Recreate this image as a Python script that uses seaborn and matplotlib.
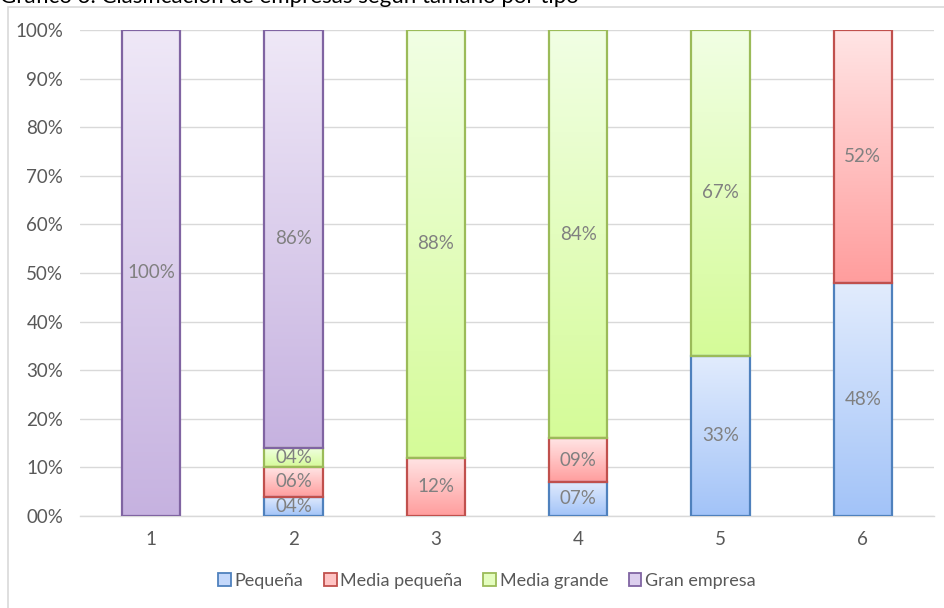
import numpy as np
import pandas as pd
import matplotlib
matplotlib.use("Agg")
import matplotlib.pyplot as plt
import seaborn as sns
from matplotlib.colors import LinearSegmentedColormap
from matplotlib.patches import Patch, Rectangle

categories = ["1", "2", "3", "4", "5", "6"]
pequena = [0, 4, 0, 7, 33, 48]
media_pequena = [0, 6, 12, 9, 0, 52]
media_grande = [0, 4, 88, 84, 67, 0]
gran_empresa = [100, 86, 0, 0, 0, 0]
series_names = ["Pequeña", "Media pequeña", "Media grande", "Gran empresa"]
y_ticks = [0, 10, 20, 30, 40, 50, 60, 70, 80, 90, 100]
title = "Gráfico 3. Clasificación de empresas según tamaño por tipo"

series_vals = [pequena, media_pequena, media_grande, gran_empresa]
edges = ["#4f81bd", "#c0504d", "#9bbb59", "#8064a2"]
tops = ["#e2ecfd", "#ffe5e5", "#f1ffe4", "#efe8f7"]
bots = ["#a2c3f8", "#ff9d9d", "#d5fb98", "#c6b2e0"]
mids = ["#c4d8fb", "#ffc4c4", "#e4fdbf", "#dccfee"]

sns.set_theme(style="white")
plt.rcParams["font.family"] = ["Lato", "DejaVu Sans"]

fig = plt.figure(figsize=(9.44, 6.08), dpi=100)
ax = fig.add_axes([80/944, 1-516/608, (934-80)/944, (516-30)/608])

bottom = np.zeros(len(categories))
for i, (name, vals) in enumerate(zip(series_names, series_vals)):
    df = pd.DataFrame({"cat": categories, "val": vals})
    n_before = len(ax.patches)
    sns.barplot(data=df, x="cat", y="val", bottom=bottom, width=0.41,
                color=mids[i], edgecolor=edges[i], linewidth=1.6,
                ax=ax, zorder=3, saturation=1)
    new_patches = ax.patches[n_before:]
    cmap = LinearSegmentedColormap.from_list(f"g{i}", [bots[i], tops[i]])
    grad = np.linspace(0, 1, 256).reshape(-1, 1)
    for p, v in zip(new_patches, vals):
        if v <= 0:
            p.set_visible(False)
            continue
        x0, y0 = p.get_x(), p.get_y()
        w, h = p.get_width(), p.get_height()
        p.set_facecolor("none")
        ax.imshow(grad, extent=[x0, x0 + w, y0, y0 + h], origin="lower",
                  cmap=cmap, aspect="auto", zorder=2.5, interpolation="bilinear")
        ax.text(x0 + w/2, y0 + h/2, f"{v:02d}%", ha="center", va="center",
                fontsize=13.5, color="#808080", zorder=5)
    bottom = bottom + np.array(vals)

ax.set_xlim(-0.5, 5.5)
ax.set_ylim(0, 100)
ax.set_yticks(y_ticks)
ax.set_yticklabels([f"{t:02d}%" for t in y_ticks])
ax.grid(axis="y", color="#d9d9d9", linewidth=1, zorder=0)
ax.set_axisbelow(True)
for s in ["left", "right", "top"]:
    ax.spines[s].set_visible(False)
ax.spines["bottom"].set_color("#d9d9d9")
ax.spines["bottom"].set_linewidth(1)
ax.tick_params(axis="y", length=0, pad=12, labelsize=13.5, labelcolor="#595959")
ax.tick_params(axis="x", length=0, pad=11, labelsize=13.5, labelcolor="#595959")
ax.set_xlabel("")
ax.set_ylabel("")

handles = [Patch(facecolor=mids[i], edgecolor=edges[i], linewidth=1.3, label=n)
           for i, n in enumerate(series_names)]
fig.legend(handles=handles, loc="center", bbox_to_anchor=(487/944, 1-581/608),
           ncol=4, frameon=False, fontsize=13, handlelength=0.7, handleheight=0.7,
           handletextpad=0.2, columnspacing=1.15, labelcolor="#595959")

fig.patches.append(Rectangle((8/944, -0.01), 1.0, 1-7/608+0.01, transform=fig.transFigure,
                             fill=False, edgecolor="#d9d9d9", linewidth=1.2))
fig.text(0.0, 1-3/608, title, ha="left", va="baseline", fontsize=16, color="#000000")

fig.savefig("out.png", dpi=100)
